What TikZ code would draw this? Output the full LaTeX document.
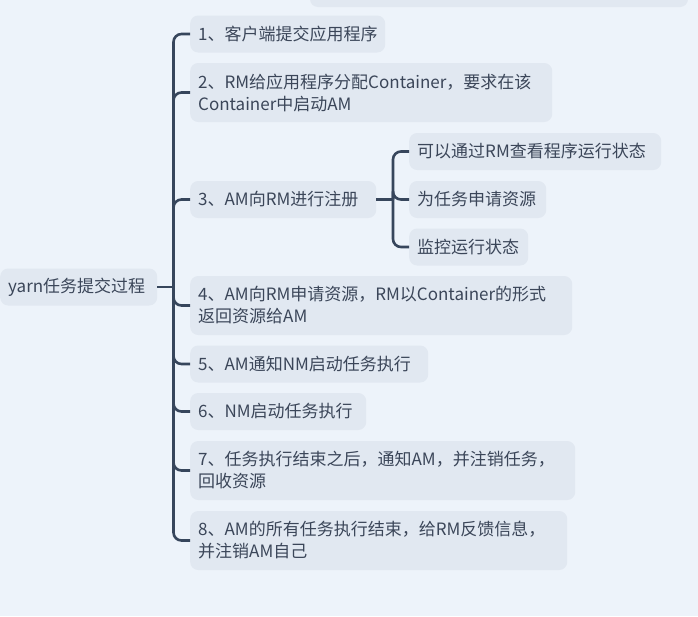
\documentclass[tikz,border=0pt]{standalone}
\usepackage{fontspec}
\setmainfont{Noto Sans CJK SC}
\definecolor{bg}{RGB}{237,243,250}
\definecolor{boxfill}{RGB}{225,232,241}
\definecolor{txt}{RGB}{59,70,89}
\definecolor{ln}{RGB}{55,70,92}
\tikzset{
  box/.style={fill=boxfill, rounded corners=8pt, text=txt, anchor=west,
    inner xsep=8pt, inner ysep=0pt, minimum height=37pt, align=left,
    font=\fontsize{17}{22}\selectfont},
  box2/.style={box, minimum height=59pt},
  w/.style={text width=#1pt-16pt},
  conn/.style={draw=ln, line width=2.6pt, rounded corners=8pt},
}
\begin{document}
\begin{tikzpicture}[x=1pt,y=-1pt]
\useasboundingbox (0,0) rectangle (698,616);
\fill[bg] (0,0) rectangle (698,616);
% partial box at top edge
\fill[boxfill, rounded corners=8pt] (310,-30) rectangle (688,7);

\node[box, w=157] (root) at (0,287) {yarn任务提交过程};

\node[box, w=195]  (c1) at (190,34)    {1、客户端提交应用程序};
\node[box2, w=362] (c2) at (190,92.5)  {2、RM给应用程序分配Container，要求在该\\Container中启动AM};
\node[box, w=186]  (c3) at (190,199.5) {3、AM向RM进行注册};
\node[box2, w=382] (c4) at (190,305.5) {4、AM向RM申请资源，RM以Container的形式\\返回资源给AM};
\node[box, w=238]  (c5) at (190,364)   {5、AM通知NM启动任务执行};
\node[box, w=176]  (c6) at (190,411.5) {6、NM启动任务执行};
\node[box2, w=385] (c7) at (190,470.5) {7、任务执行结束之后，通知AM，并注销任务，\\回收资源};
\node[box2, w=377] (c8) at (190,540.5) {8、AM的所有任务执行结束，给RM反馈信息，\\并注销AM自己};

\node[box, w=252] (s1) at (409,151.5) {可以通过RM查看程序运行状态};
\node[box, w=137] (s2) at (409,199.5) {为任务申请资源};
\node[box, w=119] (s3) at (409,247)   {监控运行状态};

\coordinate (t) at (173.5,287);
\coordinate (st) at (393,199.5);

\draw[conn] (root.east) -- (t);
\foreach \c in {c1,c2,c3,c4,c5,c6,c7,c8}{
  \draw[conn] (t) |- (\c.west);
}
\draw[conn] (c3.east) -- (st);
\foreach \c in {s1,s2,s3}{
  \draw[conn] (st) |- (\c.west);
}
\end{tikzpicture}
\end{document}
